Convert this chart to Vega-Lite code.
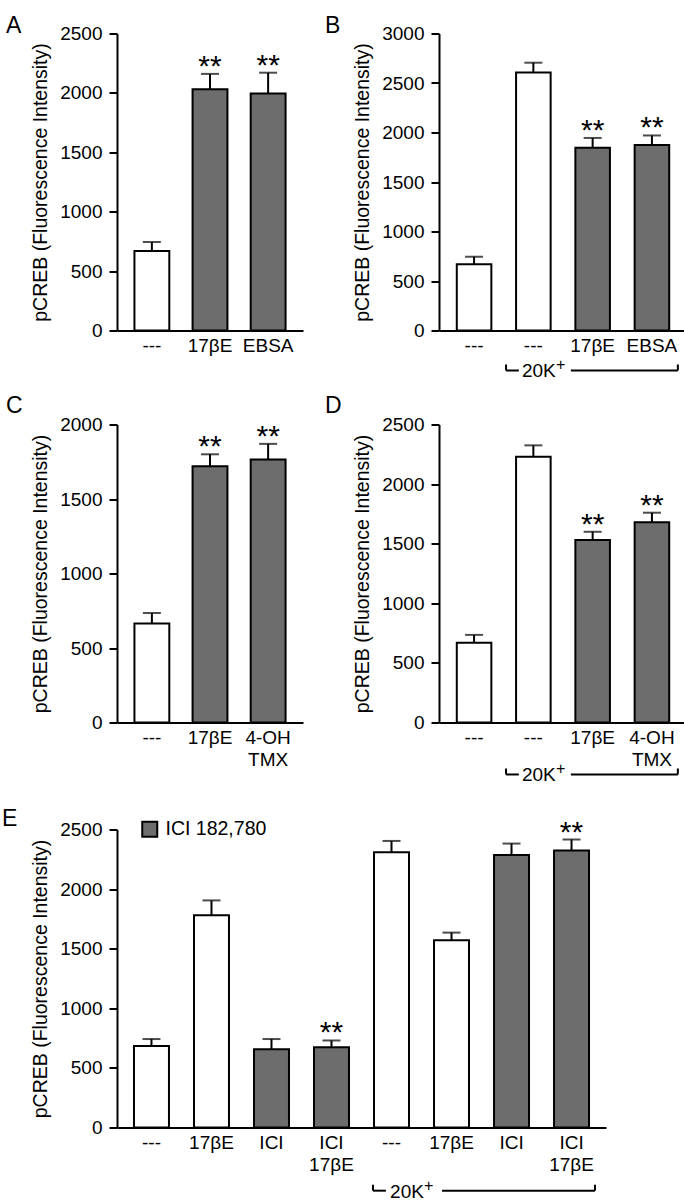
{
  "$schema": "https://vega.github.io/schema/vega-lite/v6.json",
  "padding": {"left": 2, "top": 14.5, "right": 0, "bottom": 0},
  "background": "white",
  "datasets": {
    "A": [
      {"cond": "---", "mean": 670, "upper": 745, "sig": "", "treat": "none"},
      {"cond": "17βE", "mean": 2030, "upper": 2160, "sig": "**", "treat": "drug"},
      {"cond": "EBSA", "mean": 1995, "upper": 2170, "sig": "**", "treat": "drug"}
    ],
    "B": [
      {"cond": "---", "mean": 670, "upper": 745, "sig": "", "treat": "none"},
      {"cond": "20K+ ---", "mean": 2605, "upper": 2705, "sig": "", "treat": "none"},
      {"cond": "20K+ 17βE", "mean": 1845, "upper": 1945, "sig": "**", "treat": "drug"},
      {"cond": "20K+ EBSA", "mean": 1875, "upper": 1970, "sig": "**", "treat": "drug"}
    ],
    "C": [
      {"cond": "---", "mean": 665, "upper": 735, "sig": "", "treat": "none"},
      {"cond": "17βE", "mean": 1720, "upper": 1800, "sig": "**", "treat": "drug"},
      {"cond": "4-OH TMX", "mean": 1765, "upper": 1870, "sig": "**", "treat": "drug"}
    ],
    "D": [
      {"cond": "---", "mean": 670, "upper": 735, "sig": "", "treat": "none"},
      {"cond": "20K+ ---", "mean": 2230, "upper": 2325, "sig": "", "treat": "none"},
      {"cond": "20K+ 17βE", "mean": 1530, "upper": 1600, "sig": "**", "treat": "drug"},
      {"cond": "20K+ 4-OH TMX", "mean": 1680, "upper": 1760, "sig": "**", "treat": "drug"}
    ],
    "E": [
      {"cond": "---", "mean": 683, "upper": 742, "sig": "", "treat": "none"},
      {"cond": "17βE", "mean": 1780, "upper": 1905, "sig": "", "treat": "none"},
      {"cond": "ICI", "mean": 657, "upper": 742, "sig": "", "treat": "ICI 182,780"},
      {"cond": "ICI 17βE", "mean": 674, "upper": 730, "sig": "**", "treat": "ICI 182,780"},
      {"cond": "20K+ ---", "mean": 2309, "upper": 2404, "sig": "", "treat": "none"},
      {"cond": "20K+ 17βE", "mean": 1570, "upper": 1635, "sig": "", "treat": "none"},
      {"cond": "20K+ ICI", "mean": 2287, "upper": 2382, "sig": "", "treat": "ICI 182,780"},
      {"cond": "20K+ ICI 17βE", "mean": 2323, "upper": 2416, "sig": "**", "treat": "ICI 182,780"}
    ]
  },
  "spacing": 13,
  "resolve": {"scale": {"fill": "independent"}, "legend": {"fill": "independent"}},
  "vconcat": [
    {
      "hconcat": [
        {
          "title": {"text": "A", "dx": -111, "offset": -13.5},
          "width": 186, "height": 297,
          "data": {"name": "A"},
          "encoding": {"x": {"field": "cond", "type": "nominal", "sort": null, "title": null, "scale": {"paddingInner": 0.4, "paddingOuter": 0.3}}},
          "layer": [
            {"mark": "rule", "encoding": {"y": {"field": "mean", "type": "quantitative", "title": "pCREB (Fluorescence Intensity)", "scale": {"domain": [0, 2500]}, "axis": {"values": [0, 500, 1000, 1500, 2000, 2500]}}, "y2": {"field": "upper"}}},
            {"mark": {"type": "tick", "size": 18}, "encoding": {"y": {"field": "upper", "type": "quantitative", "title": "pCREB (Fluorescence Intensity)", "scale": {"domain": [0, 2500]}}}},
            {"mark": "bar", "encoding": {"y": {"field": "mean", "type": "quantitative", "title": "pCREB (Fluorescence Intensity)", "scale": {"domain": [0, 2500]}}, "fill": {"condition": {"test": "datum.treat != 'none'", "value": "#6d6d6d"}, "value": "white"}}},
            {"mark": {"type": "text", "fontSize": 30, "baseline": "alphabetic", "dy": 2}, "encoding": {"y": {"field": "upper", "type": "quantitative", "title": "pCREB (Fluorescence Intensity)", "scale": {"domain": [0, 2500]}}, "text": {"field": "sig"}}}
          ]
        },
        {
          "title": {"text": "B", "dx": -114, "offset": -13.5},
          "width": 248, "height": 297,
          "data": {"name": "B"},
          "encoding": {"x": {"field": "cond", "type": "nominal", "sort": null, "title": null, "scale": {"paddingInner": 0.417, "paddingOuter": 0.3}}},
          "layer": [
            {"mark": "rule", "encoding": {"y": {"field": "mean", "type": "quantitative", "title": "pCREB (Fluorescence Intensity)", "scale": {"domain": [0, 3000]}, "axis": {"values": [0, 500, 1000, 1500, 2000, 2500, 3000]}}, "y2": {"field": "upper"}}},
            {"mark": {"type": "tick", "size": 18}, "encoding": {"y": {"field": "upper", "type": "quantitative", "title": "pCREB (Fluorescence Intensity)", "scale": {"domain": [0, 3000]}}}},
            {"mark": "bar", "encoding": {"y": {"field": "mean", "type": "quantitative", "title": "pCREB (Fluorescence Intensity)", "scale": {"domain": [0, 3000]}}, "fill": {"condition": {"test": "datum.treat != 'none'", "value": "#6d6d6d"}, "value": "white"}}},
            {"mark": {"type": "text", "fontSize": 30, "baseline": "alphabetic", "dy": 2}, "encoding": {"y": {"field": "upper", "type": "quantitative", "title": "pCREB (Fluorescence Intensity)", "scale": {"domain": [0, 3000]}}, "text": {"field": "sig"}}},
            {
              "data": {"values": [{"group": "20K+"}]},
              "layer": [
                {"mark": "rule", "encoding": {"x": {"datum": "20K+ ---", "bandPosition": -0.29}, "x2": {"datum": "20K+ ---", "bandPosition": 0.08}, "y": {"datum": -404, "type": "quantitative", "scale": {"domain": [0, 3000]}}}},
                {"mark": "rule", "encoding": {"x": {"datum": "20K+ 17βE", "bandPosition": -0.13}, "x2": {"datum": "20K+ EBSA", "bandPosition": 1.25}, "y": {"datum": -404, "type": "quantitative", "scale": {"domain": [0, 3000]}}}},
                {"mark": "rule", "encoding": {"x": {"datum": "20K+ ---", "bandPosition": -0.29}, "y": {"datum": -404, "type": "quantitative", "scale": {"domain": [0, 3000]}}, "y2": {"datum": -343}}},
                {"mark": "rule", "encoding": {"x": {"datum": "20K+ EBSA", "bandPosition": 1.25}, "y": {"datum": -404, "type": "quantitative", "scale": {"domain": [0, 3000]}}, "y2": {"datum": -343}}},
                {"mark": {"type": "text", "align": "left", "baseline": "middle", "fontSize": 19, "dy": 1}, "encoding": {"x": {"datum": "20K+ ---", "bandPosition": 0.17}, "y": {"datum": -404, "type": "quantitative", "scale": {"domain": [0, 3000]}}, "text": {"value": "20K"}}},
                {"mark": {"type": "text", "align": "left", "baseline": "middle", "fontSize": 16, "dx": 34, "dy": -5}, "encoding": {"x": {"datum": "20K+ ---", "bandPosition": 0.17}, "y": {"datum": -404, "type": "quantitative", "scale": {"domain": [0, 3000]}}, "text": {"value": "+"}}}
              ]
            }
          ]
        }
      ],
      "spacing": 136,
      "bounds": "flush"
    },
    {
      "hconcat": [
        {
          "title": {"text": "C", "dx": -111, "offset": -2},
          "width": 186, "height": 298,
          "data": {"name": "C"},
          "encoding": {"x": {"field": "cond", "type": "nominal", "sort": null, "title": null, "scale": {"paddingInner": 0.4, "paddingOuter": 0.3}}},
          "layer": [
            {"mark": "rule", "encoding": {"y": {"field": "mean", "type": "quantitative", "title": "pCREB (Fluorescence Intensity)", "scale": {"domain": [0, 2000]}, "axis": {"values": [0, 500, 1000, 1500, 2000]}}, "y2": {"field": "upper"}}},
            {"mark": {"type": "tick", "size": 18}, "encoding": {"y": {"field": "upper", "type": "quantitative", "title": "pCREB (Fluorescence Intensity)", "scale": {"domain": [0, 2000]}}}},
            {"mark": "bar", "encoding": {"y": {"field": "mean", "type": "quantitative", "title": "pCREB (Fluorescence Intensity)", "scale": {"domain": [0, 2000]}}, "fill": {"condition": {"test": "datum.treat != 'none'", "value": "#6d6d6d"}, "value": "white"}}},
            {"mark": {"type": "text", "fontSize": 30, "baseline": "alphabetic", "dy": 2}, "encoding": {"y": {"field": "upper", "type": "quantitative", "title": "pCREB (Fluorescence Intensity)", "scale": {"domain": [0, 2000]}}, "text": {"field": "sig"}}}
          ]
        },
        {
          "title": {"text": "D", "dx": -114, "offset": -2},
          "width": 248, "height": 298,
          "data": {"name": "D"},
          "encoding": {"x": {"field": "cond", "type": "nominal", "sort": null, "title": null, "scale": {"paddingInner": 0.417, "paddingOuter": 0.3}}},
          "layer": [
            {"mark": "rule", "encoding": {"y": {"field": "mean", "type": "quantitative", "title": "pCREB (Fluorescence Intensity)", "scale": {"domain": [0, 2500]}, "axis": {"values": [0, 500, 1000, 1500, 2000, 2500]}}, "y2": {"field": "upper"}}},
            {"mark": {"type": "tick", "size": 18}, "encoding": {"y": {"field": "upper", "type": "quantitative", "title": "pCREB (Fluorescence Intensity)", "scale": {"domain": [0, 2500]}}}},
            {"mark": "bar", "encoding": {"y": {"field": "mean", "type": "quantitative", "title": "pCREB (Fluorescence Intensity)", "scale": {"domain": [0, 2500]}}, "fill": {"condition": {"test": "datum.treat != 'none'", "value": "#6d6d6d"}, "value": "white"}}},
            {"mark": {"type": "text", "fontSize": 30, "baseline": "alphabetic", "dy": 2}, "encoding": {"y": {"field": "upper", "type": "quantitative", "title": "pCREB (Fluorescence Intensity)", "scale": {"domain": [0, 2500]}}, "text": {"field": "sig"}}},
            {
              "data": {"values": [{"group": "20K+"}]},
              "layer": [
                {"mark": "rule", "encoding": {"x": {"datum": "20K+ ---", "bandPosition": -0.29}, "x2": {"datum": "20K+ ---", "bandPosition": 0.08}, "y": {"datum": -436, "type": "quantitative", "scale": {"domain": [0, 2500]}}}},
                {"mark": "rule", "encoding": {"x": {"datum": "20K+ 17βE", "bandPosition": -0.13}, "x2": {"datum": "20K+ 4-OH TMX", "bandPosition": 1.25}, "y": {"datum": -436, "type": "quantitative", "scale": {"domain": [0, 2500]}}}},
                {"mark": "rule", "encoding": {"x": {"datum": "20K+ ---", "bandPosition": -0.29}, "y": {"datum": -436, "type": "quantitative", "scale": {"domain": [0, 2500]}}, "y2": {"datum": -386}}},
                {"mark": "rule", "encoding": {"x": {"datum": "20K+ 4-OH TMX", "bandPosition": 1.25}, "y": {"datum": -436, "type": "quantitative", "scale": {"domain": [0, 2500]}}, "y2": {"datum": -386}}},
                {"mark": {"type": "text", "align": "left", "baseline": "middle", "fontSize": 19, "dy": 1}, "encoding": {"x": {"datum": "20K+ ---", "bandPosition": 0.17}, "y": {"datum": -436, "type": "quantitative", "scale": {"domain": [0, 2500]}}, "text": {"value": "20K"}}},
                {"mark": {"type": "text", "align": "left", "baseline": "middle", "fontSize": 16, "dx": 34, "dy": -5}, "encoding": {"x": {"datum": "20K+ ---", "bandPosition": 0.17}, "y": {"datum": -436, "type": "quantitative", "scale": {"domain": [0, 2500]}}, "text": {"value": "+"}}}
              ]
            }
          ]
        }
      ],
      "spacing": 136,
      "bounds": "flush"
    },
    {
      "title": {"text": ["", "E"], "lineHeight": 9.5, "dx": -115, "offset": -13.5},
      "width": 489, "height": 298,
      "data": {"name": "E"},
      "encoding": {"x": {"field": "cond", "type": "nominal", "sort": null, "title": null, "scale": {"paddingInner": 0.417, "paddingOuter": 0.283}}},
      "layer": [
        {"mark": "rule", "encoding": {"y": {"field": "mean", "type": "quantitative", "title": "pCREB (Fluorescence Intensity)", "scale": {"domain": [0, 2500]}, "axis": {"values": [0, 500, 1000, 1500, 2000, 2500]}}, "y2": {"field": "upper"}}},
        {"mark": {"type": "tick", "size": 18}, "encoding": {"y": {"field": "upper", "type": "quantitative", "title": "pCREB (Fluorescence Intensity)", "scale": {"domain": [0, 2500]}}}},
        {"mark": "bar", "encoding": {"y": {"field": "mean", "type": "quantitative", "title": "pCREB (Fluorescence Intensity)", "scale": {"domain": [0, 2500]}}, "fill": {"field": "treat", "type": "nominal", "scale": {"domain": ["none", "ICI 182,780"], "range": ["white", "#6d6d6d"]}, "legend": {"values": ["ICI 182,780"], "title": null, "orient": "none", "legendX": 23, "legendY": -10, "padding": 0, "symbolType": "square", "symbolSize": 225, "symbolStrokeColor": "black", "symbolStrokeWidth": 2, "labelFontSize": 19.5, "labelFont": "Liberation Sans", "labelColor": "black", "labelOffset": 6}}}},
        {"mark": {"type": "text", "fontSize": 30, "baseline": "alphabetic", "dy": 2}, "encoding": {"y": {"field": "upper", "type": "quantitative", "title": "pCREB (Fluorescence Intensity)", "scale": {"domain": [0, 2500]}}, "text": {"field": "sig"}}},
        {
          "data": {"values": [{"group": "20K+"}]},
          "layer": [
            {"mark": "rule", "encoding": {"x": {"datum": "20K+ ---", "bandPosition": -0.03}, "x2": {"datum": "20K+ ---", "bandPosition": 0.34}, "y": {"datum": -530, "type": "quantitative", "scale": {"domain": [0, 2500]}}}},
            {"mark": "rule", "encoding": {"x": {"datum": "20K+ 17βE", "bandPosition": 0.23}, "x2": {"datum": "20K+ ICI 17βE", "bandPosition": 1.17}, "y": {"datum": -530, "type": "quantitative", "scale": {"domain": [0, 2500]}}}},
            {"mark": "rule", "encoding": {"x": {"datum": "20K+ ---", "bandPosition": -0.03}, "y": {"datum": -530, "type": "quantitative", "scale": {"domain": [0, 2500]}}, "y2": {"datum": -480}}},
            {"mark": "rule", "encoding": {"x": {"datum": "20K+ ICI 17βE", "bandPosition": 1.17}, "y": {"datum": -530, "type": "quantitative", "scale": {"domain": [0, 2500]}}, "y2": {"datum": -480}}},
            {"mark": {"type": "text", "align": "left", "baseline": "middle", "fontSize": 19, "dy": 1}, "encoding": {"x": {"datum": "20K+ ---", "bandPosition": 0.46}, "y": {"datum": -530, "type": "quantitative", "scale": {"domain": [0, 2500]}}, "text": {"value": "20K"}}},
            {"mark": {"type": "text", "align": "left", "baseline": "middle", "fontSize": 16, "dx": 34, "dy": -5}, "encoding": {"x": {"datum": "20K+ ---", "bandPosition": 0.46}, "y": {"datum": -530, "type": "quantitative", "scale": {"domain": [0, 2500]}}, "text": {"value": "+"}}}
          ]
        }
      ]
    }
  ],
  "config": {
    "view": {"stroke": null},
    "font": "Liberation Sans",
    "title": {"font": "Liberation Sans", "fontSize": 23, "fontWeight": "normal", "color": "black", "anchor": "start", "frame": "group"},
    "axis": {"labelFont": "Liberation Sans", "labelFontSize": 19, "labelColor": "black", "titleFont": "Liberation Sans", "titleFontSize": 19.5, "titleFontWeight": "normal", "titleColor": "black", "domainColor": "black", "domainWidth": 2, "tickColor": "black", "tickWidth": 2, "grid": false, "labelOverlap": false},
    "axisX": {"ticks": false, "labelAngle": 0, "labelPadding": 6, "labelLineHeight": 22, "labelExpr": "split(replace(datum.label, '20K+ ', ''), ' ')"},
    "axisY": {"tickSize": 8, "labelPadding": 7, "titlePadding": 9, "labelFlush": false, "format": "d"},
    "rule": {"color": "black", "strokeWidth": 2},
    "tick": {"color": "black", "thickness": 2},
    "bar": {"stroke": "black", "strokeWidth": 2},
    "text": {"font": "Liberation Sans", "color": "black"}
  }
}
